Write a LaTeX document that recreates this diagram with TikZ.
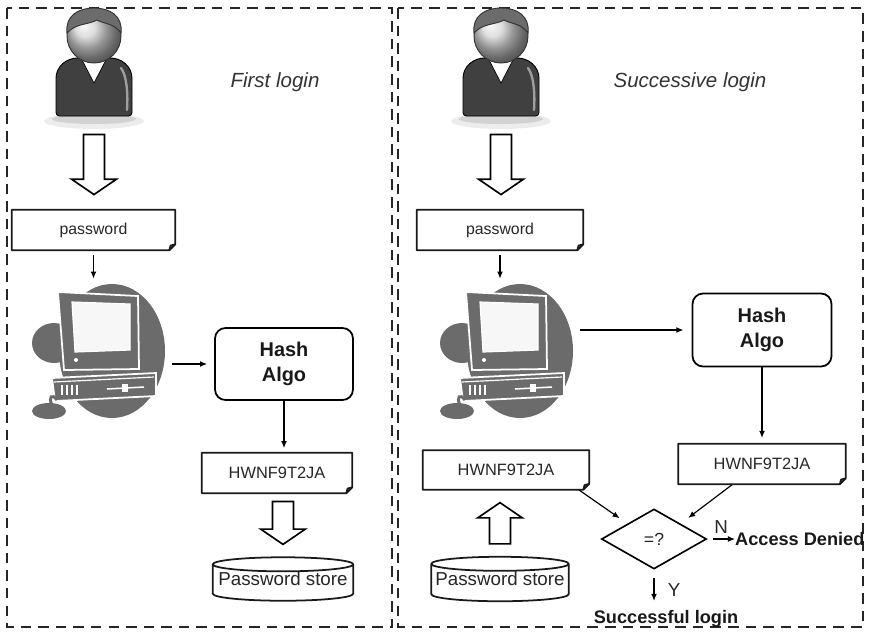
\documentclass[tikz,border=0pt]{standalone}
\usepackage{fontspec}
\setmainfont{Liberation Sans}
\usetikzlibrary{arrows.meta,calc,shapes.geometric}

\definecolor{icongray}{gray}{0.42}
\definecolor{inkgray}{gray}{0.15}

\tikzset{
  frame/.style={line width=2pt, dash pattern=on 9pt off 6pt, black!85},
  docbox/.style={inner sep=0pt, text=inkgray},
  boxline/.style={line width=1.5pt, black!90, line join=round},
  algo/.style={draw, line width=1.5pt, rounded corners=9pt, align=center, text=black!90,
    font=\fontsize{17}{21}\selectfont\bfseries},
  store/.style={inner sep=0pt, text=inkgray, font=\fontsize{16}{18}\selectfont},
  arr/.style={line width=1pt, -{Latex[length=6pt,width=5pt]}},
  hollow/.style={line width=1.4pt, fill=white, line join=miter},
  caption/.style={font=\fontsize{17.5}{20}\selectfont\itshape, text=black!80},
  verdict/.style={inner sep=0pt, text=black!90, font=\fontsize{15.5}{18}\selectfont\bfseries},
  yesno/.style={text=inkgray, font=\fontsize{16}{18}\selectfont},
  % bust of a user, origin at the centre of the head
  user/.pic={
    \fill[gray!15] (0,85) ellipse [x radius=50, y radius=8];
    \fill[gray!35] (0,83) ellipse [x radius=42, y radius=5];
    \filldraw[fill=gray!50!black, draw=black, line width=0.8pt, rounded corners=3pt]
      (-38,80) -- (-38,46) .. controls (-38,30) and (-27,22) .. (-13,22) -- (13,22)
      .. controls (27,22) and (38,30) .. (38,46) -- (38,80) -- cycle;
    \draw[gray!75, line width=2pt, line cap=round] (27,32) .. controls (33,40) and (34,58) .. (33,74);
    \filldraw[fill=white, draw=black, line width=0.6pt] (-13,22) -- (0,47) -- (13,22) -- cycle;
    \shade[ball color=gray!35] (0,0) circle [radius=27];
    \draw[black!80, line width=0.8pt] (0,0) circle [radius=27];
    \filldraw[fill=gray!85!black, draw=black!80, line width=0.8pt]
      (-27,-3) .. controls (-29,-20) and (-16,-28) .. (0,-28)
      .. controls (16,-28) and (29,-20) .. (27,-3)
      .. controls (20,-13) and (10,-12) .. (3,-16)
      .. controls (-6,-11) and (-18,-13) .. (-27,-3) -- cycle;
  },
  % desktop computer on a grey blob, origin at the blob centre
  computer/.pic={
    \fill[icongray] (0,0) ellipse [x radius=53, y radius=67];
    \fill[icongray] (-58,-8) ellipse [x radius=22, y radius=20];
    \filldraw[fill=icongray, draw=white, line width=1.5pt] (-54,-59) -- (26,-55) -- (27,18) -- (-48,19) -- cycle;
    \filldraw[fill=gray!6, draw=white, line width=1pt] (-40,-49) -- (18,-47) -- (18,-1) -- (-37,1) -- cycle;
    \fill[white] (-36,9) circle [radius=2];
    \filldraw[fill=icongray, draw=white, line width=1.5pt] (-60,27) -- (44,22) -- (44,45) -- (-57,50) -- cycle;
    \draw[white, line width=1pt] (-58,31) -- (42,26);
    \foreach \v in {-50,-45,-40,-35}
      \draw[white, line width=1.3pt] (\v,34) -- (\v,44);
    \draw[white, line width=1.3pt] (-5,38) -- (32,36);
    \fill[white] (10,33) rectangle (16,41);
    \fill[icongray] (-63,60) ellipse [x radius=17, y radius=8];
    \draw[icongray, line width=2.5pt] (-60,54) .. controls (-64,46) and (-60,42) .. (-55,49);
  }
}

% block arrow from #1 to #2 (vertical)
\newcommand{\hollowarrow}[2]{%
  \draw[hollow] let \p1=#1, \p2=#2, \p3=($(\p2)!13pt!(\p1)$) in
    ({\x1-9pt},\y1) -- ({\x1-9pt},\y3) -- ({\x1-19pt},\y3) -- (\x1,\y2)
    -- ({\x1+19pt},\y3) -- ({\x1+9pt},\y3) -- ({\x1+9pt},\y1) -- cycle;}

\begin{document}
\begin{tikzpicture}[x=0.03cm, y=-0.03cm]
\useasboundingbox (0,0) rectangle (869,631);

% the two panels
\draw[frame] (7,8) rectangle (392,627);
\draw[frame] (398,8) rectangle (863,627);

% first login
\pic at (94,36) {user};
\node[minimum width=2.4cm, minimum height=3.6cm] (userA) at (94,66) {};
\node[caption] (titleA) at (275,82) {First login};
\node[docbox, minimum width=4.89cm, minimum height=1.2cm, font=\fontsize{13.5}{15}\selectfont] (pwA) at (93.5,230) {password};
\pic at (112,351) {computer};
\node[minimum width=3.6cm, minimum height=4.05cm] (compA) at (112,351) {};
\node[algo, minimum width=4.14cm, minimum height=2.16cm] (hashA) at (284,364) {Hash\\Algo};
\node[docbox, minimum width=4.5cm, minimum height=1.2cm, font=\fontsize{14}{16}\selectfont] (codeA) at (277,473) {HWNF9T2JA};
\node[store, minimum width=4.2cm, minimum height=1.29cm] (storeA) at (283,579) {Password store};

\hollowarrow{([yshift=-7pt]userA.south)}{([yshift=13pt]pwA.north)}
\draw[arr, shorten <=4pt, shorten >=4pt] (pwA.south) -- (pwA.south |- compA.north);
\draw[arr, shorten >=6pt] (compA.east |- hashA.west) -- (hashA.west);
\draw[arr, shorten >=4pt] (hashA.south) -- (hashA.south |- codeA.north);
\hollowarrow{($(codeA.south -| storeA.north)+(0,-7pt)$)}{([yshift=11pt]storeA.north)}

% successive login
\pic at (501,36) {user};
\node[minimum width=2.4cm, minimum height=3.6cm] (userB) at (501,66) {};
\node[caption] (titleB) at (690,82) {Successive login};
\node[docbox, minimum width=4.98cm, minimum height=1.2cm, font=\fontsize{13.5}{15}\selectfont] (pwB) at (500,230) {password};
\pic at (520,351) {computer};
\node[minimum width=3.6cm, minimum height=4.05cm] (compB) at (520,351) {};
\node[algo, minimum width=4.17cm, minimum height=2.19cm] (hashB) at (762,330) {Hash\\Algo};
\node[docbox, minimum width=5.01cm, minimum height=1.2cm, font=\fontsize{14}{16}\selectfont] (codeB) at (762,464) {HWNF9T2JA};
\node[docbox, minimum width=4.98cm, minimum height=1.17cm, font=\fontsize{14}{16}\selectfont] (codeC) at (506,470) {HWNF9T2JA};
\node[store, minimum width=4.11cm, minimum height=1.32cm] (storeB) at (500,579) {Password store};
\node[draw, diamond, line width=1.4pt, minimum width=3.15cm, minimum height=1.8cm, inner sep=0pt,
  text=inkgray, font=\fontsize{15}{17}\selectfont] (cmp) at (654,539) {=?};
\node[verdict, anchor=west] (denied) at (735,539) {Access Denied};
\node[verdict] (success) at (666,619) {Successful login};

\hollowarrow{([yshift=-7pt]userB.south)}{([yshift=13pt]pwB.north)}
\draw[arr, shorten <=4pt, shorten >=4pt] (pwB.south) -- (pwB.south |- compB.north);
\draw[arr, shorten >=7pt] (compB.east |- hashB.west) -- (hashB.west);
\draw[arr, shorten >=5pt] (hashB.south) -- (codeB.north);
\hollowarrow{([yshift=11pt]storeB.north)}{($(codeC.south -| storeB.north)+(0,-11pt)$)}
\draw[arr, shorten >=8pt] ([xshift=-9pt]codeC.south east) -- (cmp.north west);
\draw[arr, shorten >=8pt] ([xshift=-25pt]codeB.south) -- (cmp.north east);
\draw[arr, shorten <=5pt] (cmp.east) -- node[yesno, above=1pt] {N} (denied.west);
\draw[arr, shorten <=7pt, shorten >=8pt] (cmp.south) -- node[yesno, right=8pt] {Y} (cmp.south |- success.north);

% paper outlines with a folded corner
\foreach \s in {pwA,pwB,codeA,codeB,codeC}
  \draw[boxline] let \p1=(\s.north west), \p2=(\s.south east) in
    (\x1,\y1) -- (\x2,\y1) -- (\x2,{\y2+5pt}) -- ({\x2-5pt},\y2) -- (\x1,\y2) -- cycle
    ({\x2-5pt},\y2) -- ({\x2-4pt},{\y2+4pt}) -- (\x2,{\y2+5pt});

% database drums
\foreach \s in {storeA,storeB}
  \draw[boxline] let \p1=(\s.north west), \p2=(\s.south east) in
    ({(\x1+\x2)/2},{\y1-6pt}) ellipse [x radius={(\x2-\x1)/2}, y radius=6pt]
    (\x1,{\y1-6pt}) -- (\x1,{\y2+6pt}) arc [start angle=180, end angle=360, x radius={(\x2-\x1)/2}, y radius=6pt]
    -- (\x2,{\y1-6pt});
\end{tikzpicture}
\end{document}
